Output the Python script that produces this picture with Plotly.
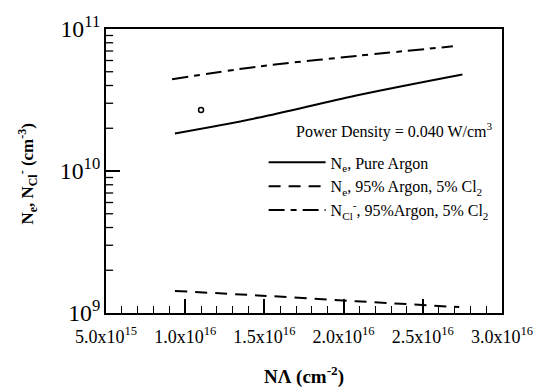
import math
import plotly.graph_objects as go

# Data
x_pure = [9.35e15, 1.458e16, 2.08e16, 2.75e16]
ne_pure = [1.84e10, 2.37e10, 3.40e10, 4.78e10]

x_mix = [9.35e15, 1.458e16, 2.08e16, 2.73e16]
ne_mix = [1.43e9, 1.33e9, 1.21e9, 1.10e9]

x_cl = [9.17e15, 1.458e16, 2.08e16, 2.69e16]
ncl_mix = [4.43e10, 5.43e10, 6.46e10, 7.55e10]

x_point = [1.10e16]
y_point = [2.69e10]

x_tickvals = [5e15, 1e16, 1.5e16, 2e16, 2.5e16, 3e16]
x_ticktext = ["5.0x10<sup>15</sup>", "1.0x10<sup>16</sup>", "1.5x10<sup>16</sup>",
              "2.0x10<sup>16</sup>", "2.5x10<sup>16</sup>", "3.0x10<sup>16</sup>"]
y_minor = [m * 10 ** e for e in (9, 10) for m in range(2, 10)]
Y_LOG_RANGE = [9, 11]

FONT = "Liberation Serif, Times New Roman, serif"

fig = go.Figure()
fig.add_trace(go.Scatter(x=x_pure, y=ne_pure, mode="lines", line_shape="spline",
                         line=dict(color="black", width=2),
                         name="N<sub>e</sub>, Pure Argon", legendgroup="a"))
fig.add_trace(go.Scatter(x=x_mix, y=ne_mix, mode="lines", line_shape="spline",
                         line=dict(color="black", width=2, dash="12px,8px"),
                         name="N<sub>e</sub>, 95% Argon, 5% Cl<sub>2</sub>", legendgroup="b"))
fig.add_trace(go.Scatter(x=x_cl, y=ncl_mix, mode="lines", line_shape="spline",
                         line=dict(color="black", width=2, dash="16px,6px,6px,6px"),
                         name="N<sub>Cl</sub><sup>-</sup>, 95%Argon, 5% Cl<sub>2</sub>", legendgroup="c"))
fig.add_trace(go.Scatter(x=x_point, y=y_point, mode="markers",
                         marker=dict(symbol="circle-open", size=5, color="black", line=dict(width=1.5)),
                         showlegend=False))

# minor tick marks on the log y axis (inside, short), placed in axis-domain units
span = Y_LOG_RANGE[1] - Y_LOG_RANGE[0]
minor_shapes = []
for v in y_minor:
    f = (math.log10(v) - Y_LOG_RANGE[0]) / span
    minor_shapes.append(dict(type="line", xref="paper", yref="paper",
                             x0=0, x1=0.018, y0=f, y1=f, layer="above",
                             line=dict(color="black", width=1.3)))

fig.update_layout(
    width=545, height=387,
    margin=dict(l=106, r=37, t=18, b=74),
    paper_bgcolor="white", plot_bgcolor="white",
    font=dict(family=FONT, size=16, color="black"),
    showlegend=True,
    legend=dict(x=0.398, y=0.59, xanchor="left", yanchor="top",
                bgcolor="rgba(0,0,0,0)", font=dict(size=16, family=FONT),
                tracegroupgap=0, itemwidth=57),
    xaxis=dict(range=[5e15, 3e16], tickvals=x_tickvals, ticktext=x_ticktext,
               ticks="inside", ticklen=14, tickwidth=1.5, tickcolor="black",
               minor=dict(dtick=1e15, ticks="inside", ticklen=7, tickwidth=1.2, tickcolor="black"),
               showline=True, linewidth=2, linecolor="black", mirror=True,
               showgrid=False, zeroline=False, tickfont=dict(size=18), ticklabelstandoff=6),
    yaxis=dict(type="log", range=Y_LOG_RANGE, dtick=1, exponentformat="power", showexponent="all",
               ticks="inside", ticklen=14, tickwidth=1.5, tickcolor="black",
               showline=True, linewidth=2, linecolor="black", mirror=True,
               showgrid=False, zeroline=False, tickfont=dict(size=19)),
    shapes=minor_shapes,
    annotations=[
        dict(text="Power Density = 0.040 W/cm<sup>3</sup>", xref="paper", yref="paper",
             x=(398 - 106) / 402, y=(313 - 123) / 295, xanchor="center", yanchor="middle",
             showarrow=False, font=dict(size=16)),
        dict(text="<b>NΛ (cm<sup>-2</sup>)</b>", xref="paper", yref="paper",
             x=0.5, y=(313 - 378) / 295, xanchor="center", yanchor="middle", showarrow=False,
             font=dict(size=19)),
        dict(text="<b>N<sub>e</sub>, N<sub>Cl</sub><sup>-</sup> (cm<sup>-3</sup>)</b>",
             xref="paper", yref="paper", x=(26 - 106) / 402, y=(313 - 169) / 295,
             xanchor="center", yanchor="middle",
             textangle=-90, showarrow=False, font=dict(size=17)),
    ],
)

fig.write_html("out.html")
